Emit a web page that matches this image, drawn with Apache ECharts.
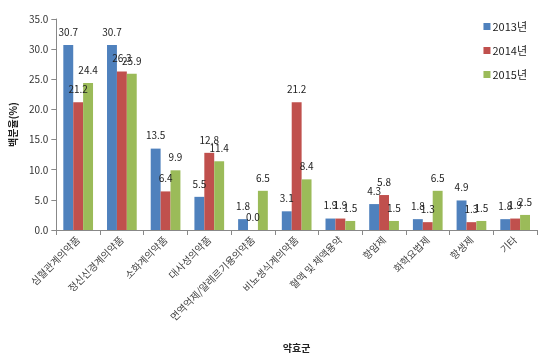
<!DOCTYPE html>
<html><head><meta charset="utf-8">
<script src="https://cdn.jsdelivr.net/npm/echarts@6/dist/echarts.min.js"></script>
<style>html,body{margin:0;padding:0;background:#fff}#c{width:550px;height:359px}</style>
</head><body><div id="c"></div>
<script>
var categories = ['심혈관계의약품','정신신경계의약품','소화계의약품','대사성의약품','면역억제/알레르기용의약품','비뇨생식계의약품','혈액 및 체액용약','항암제','화학요법제','항생제','기타'];
var seriesNames = ['2013년','2014년','2015년'];
var s2013 = [30.7,30.7,13.5,5.5,1.8,3.1,1.9,4.3,1.8,4.9,1.8];
var s2014 = [21.2,26.3,6.4,12.8,0.0,21.2,1.9,5.8,1.3,1.3,1.9];
var s2015 = [24.4,25.9,9.9,11.4,6.5,8.4,1.5,1.5,6.5,1.5,2.5];
var colors = ['#4F81BD','#C0504D','#9BBB59'];
var font = '"Noto Sans CJK KR", sans-serif';
function mk(name, data, i){
  return {name:name,type:'bar',data:data,barGap:'0%',barCategoryGap:'32%',
    itemStyle:{color:colors[i]},
    label:{show:true,position:'top',distance:8,color:'#222',fontSize:10,fontFamily:font,
      formatter:function(p){return p.value.toFixed(1);}}};
}
var chart = echarts.init(document.getElementById('c'));
chart.setOption({
  animation:false,
  textStyle:{fontFamily:font},
  grid:{left:52,top:19,right:13,bottom:129},
  legend:{orient:'vertical',right:18,top:16,itemWidth:7,itemHeight:7,itemGap:13,icon:'rect',
    textStyle:{fontSize:11,color:'#222',fontFamily:font,padding:[0,0,0,-3]},data:seriesNames},
  xAxis:{type:'category',data:categories,
    name:'약효군',nameLocation:'middle',nameGap:113,nameTextStyle:{fontSize:10,fontWeight:'bold',color:'#222'},
    axisLine:{lineStyle:{color:'#888'}},axisTick:{show:true,lineStyle:{color:'#888'}},
    axisLabel:{rotate:45,fontSize:10,color:'#444',interval:0,margin:8}},
  yAxis:{type:'value',min:0,max:35,interval:5,
    name:'백분율(%)',nameLocation:'middle',nameGap:32,nameRotate:90,nameTextStyle:{fontSize:10,fontWeight:'bold',color:'#222'},
    axisLine:{show:true,lineStyle:{color:'#888'}},axisTick:{show:true,lineStyle:{color:'#888'}},
    splitLine:{show:false},
    axisLabel:{fontSize:10,color:'#333',formatter:function(v){return v.toFixed(1);}}},
  series:[mk(seriesNames[0],s2013,0),mk(seriesNames[1],s2014,1),mk(seriesNames[2],s2015,2)]
});
</script></body></html>
